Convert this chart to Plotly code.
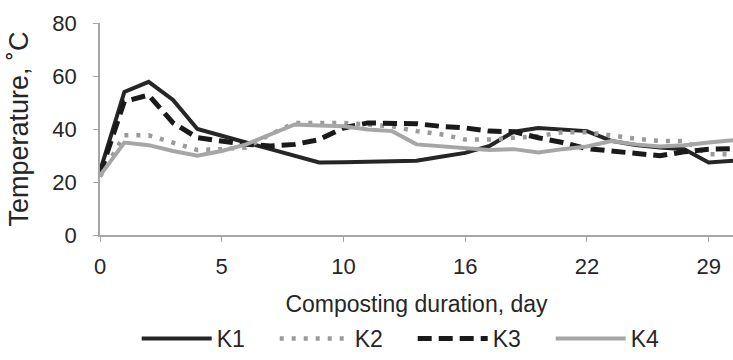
import plotly.graph_objects as go

days = [0, 1, 2, 3, 4, 5, 6, 7, 8, 9, 10, 11, 12, 13, 15, 16, 17, 18, 19, 21, 22, 23, 24, 26, 27, 29, 30]
tick_days = [0, 5, 10, 16, 22, 29]

k1 = [24, 54, 57.8, 51, 40, 37.6, 34.9, 32.4, 29.9, 27.4, 27.5, 27.7, 28, 28, 29.5, 31, 33.6, 39, 40.4, 39.8, 39.2, 35.5, 34, 33, 32.4, 27.4, 28]
k2 = [22, 37.6, 37.6, 34.9, 32.1, 32.4, 33, 38, 42.3, 42.3, 42.3, 41.7, 41, 39.2, 38, 36, 36, 36.7, 37.3, 38.8, 38.8, 37.6, 36.3, 35.5, 35.5, 30.5, 30.5]
k3 = [23, 50.4, 52.8, 42.3, 36.7, 35.5, 34.2, 33.6, 34.2, 36, 40.4, 42.3, 42.3, 42, 41, 40.4, 39.2, 39, 36.7, 34.9, 32.6, 31.7, 30.5, 29.9, 31.4, 32.4, 32.6]
k4 = [22.4, 34.9, 33.9, 31.7, 29.9, 31.7, 34.2, 38, 41.7, 41.3, 41, 39.8, 39.2, 34.2, 33.4, 32.6, 32.1, 32.4, 31.1, 32.4, 33.4, 35.5, 34.2, 33.4, 33.9, 34.9, 35.8]

x = list(range(len(days)))
tickvals = [days.index(d) for d in tick_days]

fig = go.Figure()
fig.add_trace(go.Scatter(x=x, y=k1, name="K1", mode="lines",
                         line=dict(color="#262626", width=4)))
fig.add_trace(go.Scatter(x=x, y=k2, name="K2", mode="lines",
                         line=dict(color="#9a9a9a", width=4.5, dash="4px,8px")))
fig.add_trace(go.Scatter(x=x, y=k3, name="K3", mode="lines",
                         line=dict(color="#1a1a1a", width=5, dash="14px,7px")))
fig.add_trace(go.Scatter(x=x, y=k4, name="K4", mode="lines",
                         line=dict(color="#a6a6a6", width=4)))

fam = "Liberation Sans, Arial, sans-serif"
txt = "#262626"

fig.update_layout(
    width=733, height=360,
    margin=dict(l=100, r=0, t=23, b=125, autoexpand=False),
    paper_bgcolor="white", plot_bgcolor="white",
    font=dict(family=fam, size=22, color=txt),
    showlegend=True,
    legend=dict(orientation="h", x=0.494, y=-0.017, xref="paper", yref="container",
                xanchor="center", yanchor="bottom",
                itemwidth=70, entrywidth=53, entrywidthmode="pixels",
                font=dict(family=fam, size=23, color=txt), traceorder="normal"),
)
fig.update_xaxes(
    range=[0, len(days) - 1], tickvals=tickvals, ticktext=[str(d) for d in tick_days],
    showline=True, linecolor="#a6a6a6", linewidth=1.5, ticks="outside", ticklen=5,
    tickcolor="#a6a6a6", showgrid=False, zeroline=False,
    tickfont=dict(family=fam, size=22, color=txt), ticklabelstandoff=6,
    title=dict(text="Composting duration, day", standoff=23,
               font=dict(family=fam, size=23, color=txt)),
    automargin=False,
)
fig.update_yaxes(
    range=[0, 80], tickvals=[0, 20, 40, 60, 80],
    showline=True, linecolor="#a6a6a6", linewidth=1.5, ticks="outside", ticklen=5,
    tickcolor="#a6a6a6", showgrid=False, zeroline=False,
    tickfont=dict(family=fam, size=22, color=txt), ticklabelstandoff=12,
    title=dict(text="Temperature, ˚C", standoff=16,
               font=dict(family=fam, size=27, color=txt)),
    automargin=False,
)

fig.write_html("out.html", config={"displayModeBar": False},
               post_script="document.body.style.margin='0';document.body.style.overflow='hidden';")
